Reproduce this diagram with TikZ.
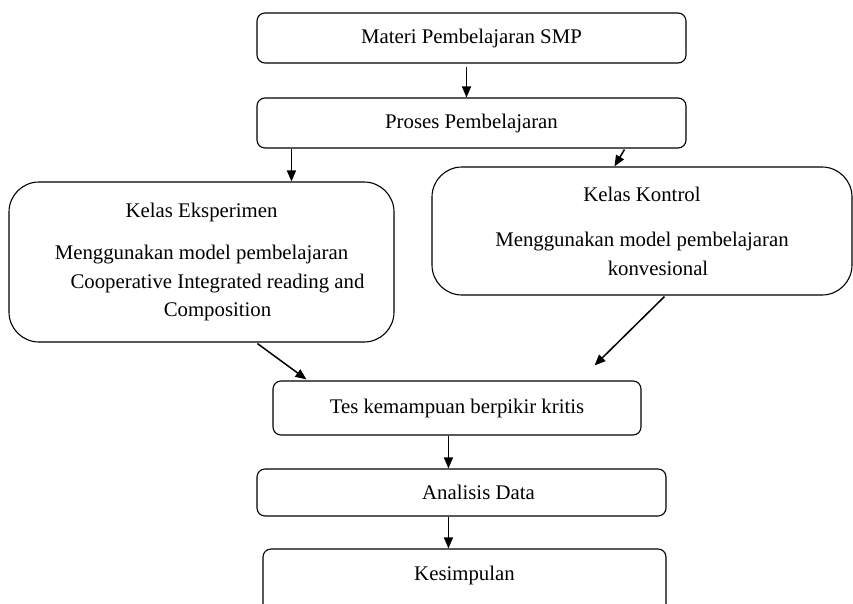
\documentclass[tikz,border=0pt]{standalone}
\usepackage{fontspec}
\setmainfont{Liberation Serif}
\usetikzlibrary{arrows.meta,calc}

\begin{document}
\begin{tikzpicture}[x=1pt,y=-1pt,
    font=\fontsize{20.8}{28.5}\selectfont,
    flow/.style={draw,-{Triangle[length=11pt,width=9pt]},line width=1.5pt}]

        \clip (0,0) rectangle (853,603);

        \begin{scope}[every node/.style={draw,line width=1.1pt,rounded corners=8pt,align=center,inner sep=0pt}]
          \node[minimum width=429pt,minimum height=50pt] (materi) at (471.5,38) {Materi Pembelajaran SMP};
          \node[minimum width=429pt,minimum height=50pt] (proses) at (471.5,123) {Proses Pembelajaran};
          \node[minimum width=385pt,minimum height=160pt,rounded corners=30pt] (eksperimen) at (201.5,262)
            {Kelas Eksperimen\\[14pt] Menggunakan model pembelajaran\\
             \hspace*{32pt}Cooperative Integrated reading and\\ \hspace*{32pt}Composition};
          \node[minimum width=420pt,minimum height=128pt,rounded corners=30pt] (kontrol) at (642,231)
            {Kelas Kontrol\\[17pt] Menggunakan model pembelajaran\\ \hspace*{32pt}konvesional};
          \node[minimum width=368pt,minimum height=54pt] (tes) at (457,408) {Tes kemampuan berpikir kritis};
          \node[minimum width=409pt,minimum height=47pt] (analisis) at (461.5,492.5) {\hspace*{34pt}Analisis Data};
          \node[minimum width=403pt,minimum height=64pt,text depth=16pt] (kesimpulan) at (464.5,581) {Kesimpulan};
        \end{scope}

        \begin{scope}[every edge/.style={flow}]
          \path ($(materi.south)+(-5,3)$) edge ($(proses.north)+(-5,0)$);
          \path ($(proses.south west)+(35,0)$) edge ($(eksperimen.north west)+(283,0)$);
          \path ($(proses.south west)+(368,1)$) edge ($(kontrol.north west)+(183,0)$);
          \path ($(eksperimen.south west)+(249,1)$) edge ($(tes.north west)+(34,-1)$);
          \path ($(kontrol.south west)+(233,1)$) edge ($(tes.north east)+(-47,-15)$);
          \path ($(tes.south west)+(176,0)$) edge ($(analisis.north west)+(192,0)$);
          \path ($(analisis.south west)+(192,0)$) edge ($(kesimpulan.north west)+(186,0)$);
        \end{scope}

      \end{tikzpicture}
\end{document}
